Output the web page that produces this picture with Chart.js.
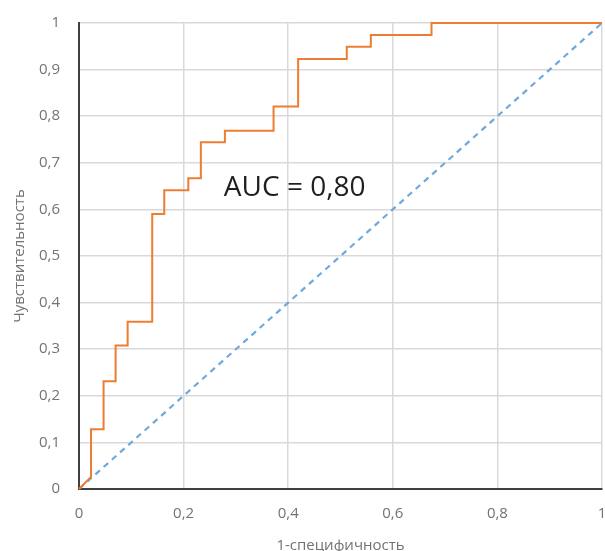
<!DOCTYPE html>
<html>
<head>
<meta charset="utf-8">
<script src="https://cdn.jsdelivr.net/npm/chart.js@4"></script>
<style>
  html, body { margin: 0; padding: 0; background: #ffffff; }
  #wrap { width: 605px; height: 551px; }
</style>
</head>
<body>
<div id="wrap"><canvas id="rocChart" width="605" height="551"></canvas></div>
<script>
// ROC curve points (1-specificity, sensitivity)
const fprValues = [0, 0.023, 0.023, 0.047, 0.047, 0.070, 0.070, 0.093, 0.093, 0.140, 0.140, 0.163, 0.163, 0.209, 0.209, 0.233, 0.233, 0.279, 0.279, 0.372, 0.372, 0.419, 0.419, 0.512, 0.512, 0.558, 0.558, 0.674, 0.674, 1];
const tprValues = [0, 0.026, 0.128, 0.128, 0.231, 0.231, 0.308, 0.308, 0.359, 0.359, 0.590, 0.590, 0.641, 0.641, 0.667, 0.667, 0.744, 0.744, 0.769, 0.769, 0.821, 0.821, 0.923, 0.923, 0.949, 0.949, 0.974, 0.974, 1, 1];

// reference diagonal
const diagX = [0, 1];
const diagY = [0, 1];

const xTitle = '1-специфичность';
const yTitle = 'Чувствительность';
const aucLabel = 'AUC = 0,80';

const tickColor = '#737373';
const gridColor = '#d9d9d9';
const axisColor = '#404040';

function commaTick(value) {
    const v = Math.round(value * 10) / 10;
    return String(v).replace('.', ',');
}

// draws the AUC text inside the plot, anchored to data coordinates
const aucPlugin = {
    id: 'aucText',
    afterDatasetsDraw(chart) {
        const ctx = chart.ctx;
        const x = chart.scales.x.getPixelForValue(0.277);
        const y = chart.scales.y.getPixelForValue(0.645);
        ctx.save();
        ctx.font = '28px "Open Sans"';
        ctx.fillStyle = '#1f1f1f';
        ctx.textAlign = 'left';
        ctx.textBaseline = 'middle';
        ctx.fillText(aucLabel, x, y);
        ctx.restore();
    }
};

const ctx = document.getElementById('rocChart');

const chart = new Chart(ctx, {
    type: 'line',
    data: {
        datasets: [
            {
                label: 'ROC',
                data: fprValues.map((x, i) => ({ x: x, y: tprValues[i] })),
                borderColor: '#ed7d31',
                borderWidth: 2,
                pointRadius: 0,
                tension: 0,
                fill: false,
                clip: false
            },
            {
                label: 'Random',
                data: diagX.map((x, i) => ({ x: x, y: diagY[i] })),
                borderColor: '#6fa8dc',
                borderWidth: 2.2,
                borderDash: [6, 5],
                pointRadius: 0,
                fill: false
            }
        ]
    },
    options: {
        responsive: false,
        animation: false,
        devicePixelRatio: 1,
        layout: {
            padding: { top: 23, right: 3, left: 0, bottom: 0 }
        },
        scales: {
            x: {
                type: 'linear',
                min: 0,
                max: 1,
                ticks: {
                    stepSize: 0.2,
                    color: tickColor,
                    padding: 16,
                    maxRotation: 0,
                    font: { family: 'Open Sans', size: 15 },
                    callback: commaTick
                },
                grid: { color: gridColor, lineWidth: 1.5, drawTicks: false },
                border: { display: true, color: axisColor, width: 2 },
                title: {
                    display: true,
                    text: xTitle,
                    color: tickColor,
                    font: { family: 'Open Sans', size: 15 },
                    padding: { top: 0, bottom: -4 }
                },
                afterFit: function(scale) {
                    scale.height = 62;
                    scale.paddingRight = 0;
                    scale.paddingLeft = 0;
                }
            },
            y: {
                type: 'linear',
                min: 0,
                max: 1,
                ticks: {
                    stepSize: 0.1,
                    color: tickColor,
                    padding: 19,
                    font: { family: 'Open Sans', size: 15 },
                    callback: commaTick
                },
                grid: { color: gridColor, lineWidth: 1.5, drawTicks: false },
                border: { display: true, color: axisColor, width: 2 },
                title: {
                    display: true,
                    text: yTitle,
                    color: tickColor,
                    font: { family: 'Open Sans', size: 15 },
                    padding: { top: 11, bottom: 0 }
                },
                afterFit: function(scale) {
                    scale.width = 79;
                    scale.paddingTop = 0;
                    scale.paddingBottom = 0;
                }
            }
        },
        plugins: {
            legend: { display: false },
            tooltip: { enabled: false }
        }
    },
    plugins: [aucPlugin]
});
</script>
</body>
</html>
